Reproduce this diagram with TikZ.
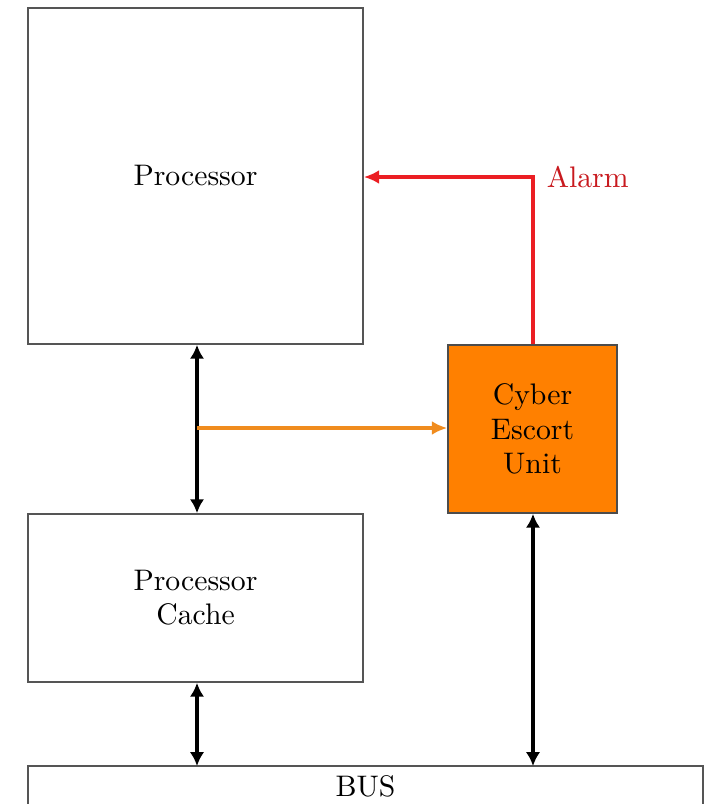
\documentclass[tikz,border=0pt]{standalone}
\usetikzlibrary{arrows.meta}
\definecolor{boxline}{RGB}{85,85,85}
\definecolor{ceufill}{RGB}{255,128,0}
\definecolor{snoop}{RGB}{240,140,30}
\definecolor{alarmred}{RGB}{235,30,35}
\newcommand{\blockfont}{\fontsize{10.7}{12.3}\selectfont}
\begin{document}
\begin{tikzpicture}[x=0.36pt,y=-0.36pt,
  block/.style={draw=boxline,line width=0.6pt,rectangle,inner sep=0pt,align=center,font=\blockfont},
  link/.style={line width=1.4pt,{Latex[length=5pt,width=5.2pt]}-{Latex[length=5pt,width=5.2pt]}},
  feed/.style={snoop,line width=1.2pt,-{Latex[length=5.5pt,width=5pt]}},
  alarmline/.style={alarmred,line width=1.2pt,-{Latex[length=5.5pt,width=5pt]}}]
  \useasboundingbox (0,0) rectangle (709,804);
  \clip (0,0) rectangle (709,804);
  % blocks
  \node[block,minimum width=335*0.36pt,minimum height=336*0.36pt] (proc) at (195.5,176) {Processor};
  \node[block,minimum width=335*0.36pt,minimum height=168*0.36pt] (cache) at (195.5,598) {Processor\\Cache};
  \node[block,fill=ceufill,draw=black!70,minimum width=169*0.36pt,minimum height=168*0.36pt] (ceu) at (532.5,429) {Cyber\\Escort\\Unit};
  \draw[boxline,line width=0.6pt] (28,830) -- (28,766) -- (703,766) -- (703,830);
  \node[font=\blockfont] (bus) at (365.5,786) {BUS};
  \coordinate (busL) at (197,766);
  \coordinate (busR) at (533,766);
  % connectors
  \draw[link] (proc.south -| busL) -- (cache.north -| busL);
  \draw[link] (cache.south -| busL) -- (busL);
  \draw[link] (ceu.south -| busR) -- (busR);
  \coordinate (tap) at (197,428);
  \draw[feed] (tap) -- (tap -| ceu.west);
  \coordinate (bend) at (533,177);
  \draw[alarmline] (ceu.north -| bend) -- (bend) -- (bend -| proc.east);
  \node[anchor=west,text=alarmred!85!black,font=\blockfont] (alarm) at (537,177) {Alarm};
\end{tikzpicture}
\end{document}
